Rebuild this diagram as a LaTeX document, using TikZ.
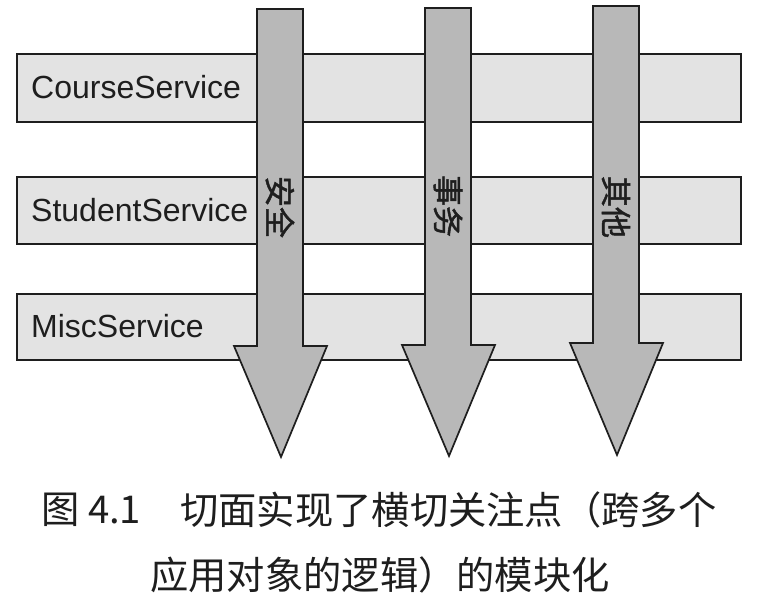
\documentclass[tikz,border=0pt]{standalone}
\usepackage{fontspec}
\setmainfont{Liberation Sans}
\newfontfamily\cjk{Noto Sans CJK SC}
\newfontfamily\cjkmid[FakeBold=1.5]{Noto Sans CJK SC}
\definecolor{boxfill}{HTML}{E3E3E3}
\definecolor{arrowfill}{HTML}{B8B8B8}
\definecolor{ink}{HTML}{1E1E1E}
\begin{document}
\begin{tikzpicture}[x=1pt,y=-1pt,
  svcbox/.style={draw=ink, line width=1.7pt, fill=boxfill, inner sep=0pt, anchor=north west},
  svclabel/.style={anchor=west, inner sep=0pt, text=ink, font=\fontsize{32}{34}\selectfont},
  aspectarrow/.style={draw=ink, line width=1.7pt, fill=arrowfill, line join=miter},
  aspectlabel/.style={inner sep=0pt, rotate=-90, text=ink, font=\cjkmid\fontsize{31}{33}\selectfont},
  caption/.style={anchor=west, inner sep=0pt, text=ink, font=\cjk\fontsize{38.3}{40}\selectfont}]
\useasboundingbox[fill=white] (0,0) rectangle (759,599);
% service boxes
\node[svcbox, minimum width=724pt, minimum height=68pt] (course) at (16,53) {};
\node[svcbox, minimum width=724pt, minimum height=67pt] (student) at (16,176) {};
\node[svcbox, minimum width=724pt, minimum height=66pt] (misc) at (16,293) {};
\node[svclabel] (courselbl) at (31,87) {CourseService};
\node[svclabel] (studentlbl) at (31,210) {StudentService};
\node[svclabel] (misclbl) at (31,326) {MiscService};
% aspect arrows
\foreach \cx/\top/\sh/\tip in {280/9/346/457, 448/8/345/456, 616/6/343/455}{
  \draw[aspectarrow] (\cx-23,\top) -- (\cx+23,\top) -- (\cx+23,\sh) -- (\cx+47,\sh)
     -- (\cx+1,\tip) -- (\cx-46,\sh) -- (\cx-23,\sh) -- cycle;
}
\node[aspectlabel] (security) at (280,207) {安全};
\node[aspectlabel] (transaction) at (448,206) {事务};
\node[aspectlabel] (other) at (616,207) {其他};
% caption
\node[caption] (capnum) at (41,510) {图 4.1};
\node[caption] (capline1) at (180,510) {切面实现了横切关注点（跨多个};
\node[caption] (capline2) at (150,575) {应用对象的逻辑）的模块化};
\end{tikzpicture}
\end{document}
